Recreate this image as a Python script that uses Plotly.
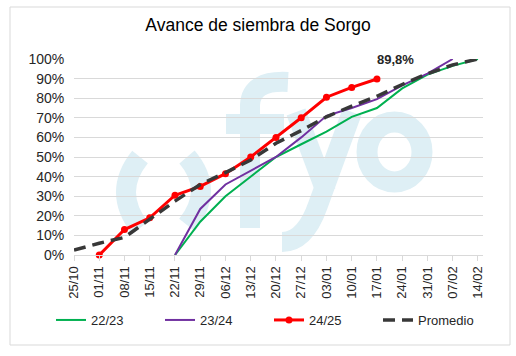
import plotly.graph_objects as go

categories = ["25/10", "01/11", "08/11", "15/11", "22/11", "29/11", "06/12", "13/12",
              "20/12", "27/12", "03/01", "10/01", "17/01", "24/01", "31/01", "07/02", "14/02"]
s_2223 = [None, None, None, None, 0, 17, 30, 40, 50, 56.5, 63, 70.5, 75, 85, 92, 96.5, 100]
s_2324 = [None, None, None, None, 0, 23.5, 36, 43, 50, 60, 71, 75, 79.5, 86.5, 92.5, 100, None]
s_2425 = [None, 0, 13, 19, 30.5, 35, 41.5, 50, 60, 70, 80.5, 85.5, 89.8, None, None, None, None]
promedio = [2.5, 6, 9, 18.5, 27.5, 36, 42, 48.5, 57, 63.5, 70.5, 76, 81, 87, 92.5, 97, 100]
y_ticks = [0, 10, 20, 30, 40, 50, 60, 70, 80, 90, 100]
y_labels = [f"{v}%" for v in y_ticks]
last_label = "89,8%"

x = list(range(len(categories)))

W, H = 516, 356
L, R, T, B = 74, 483, 59, 255  # plot area in pixels


def px(xp):
    return (xp - L) / (R - L)


def py(yp):
    return (B - yp) / (B - T)


def path(cmds):
    out = []
    for c in cmds:
        if isinstance(c, str):
            out.append(c)
        else:
            out.append(f"{px(c[0]):.5f},{py(c[1]):.5f}")
    return " ".join(out)


fig = go.Figure()
fig.add_trace(go.Scatter(x=x, y=s_2223, name="22/23", mode="lines",
                         line=dict(color="#00b050", width=2), cliponaxis=False))
fig.add_trace(go.Scatter(x=x, y=s_2324, name="23/24", mode="lines",
                         line=dict(color="#7030a0", width=2), cliponaxis=False))
fig.add_trace(go.Scatter(x=x, y=s_2425, name="24/25", mode="lines+markers",
                         line=dict(color="#ff0000", width=3),
                         marker=dict(color="#ff0000", size=7), cliponaxis=False))
fig.add_trace(go.Scatter(x=x, y=promedio, name="Promedio", mode="lines",
                         line=dict(color="#383838", width=3.5, dash="12px,7px"), cliponaxis=False))

# faint logo watermark drawn with shapes below the data
wm = "#deeff5"
wm_line = dict(color=wm, width=20)
shapes = [
    dict(type="rect", xref="paper", yref="paper", x0=px(10), x1=px(510), y0=py(345), y1=py(7),
         line=dict(color="#d9d9d9", width=1), layer="below"),
    dict(type="path", xref="paper", yref="paper", layer="below", line=wm_line,
         path=path(["M", (140, 157), "Q", (112, 192), (140, 228)])),
    dict(type="path", xref="paper", yref="paper", layer="below", line=wm_line,
         path=path(["M", (187, 157), "Q", (215, 190), (187, 225)])),
    dict(type="path", xref="paper", yref="paper", layer="below", line=wm_line,
         path=path(["M", (250, 228), "L", (250, 105), "Q", (251, 80), (288, 82)])),
    dict(type="path", xref="paper", yref="paper", layer="below", line=wm_line,
         path=path(["M", (226, 124), "L", (284, 124)])),
    dict(type="path", xref="paper", yref="paper", layer="below", line=wm_line,
         path=path(["M", (296, 112), "L", (326, 192)])),
    dict(type="path", xref="paper", yref="paper", layer="below", line=wm_line,
         path=path(["M", (352, 112), "L", (318, 205), "Q", (305, 242), (282, 242)])),
    dict(type="circle", xref="paper", yref="paper", layer="below", line=dict(color=wm, width=21),
         x0=px(367), x1=px(422), y0=py(182), y1=py(122)),
]

annotations = [
    dict(x=12, y=100, xref="x", yref="y", text=f"<b>{last_label}</b>", showarrow=False,
         xshift=19, yshift=0, yanchor="middle",
         font=dict(family="Liberation Sans", size=13, color="#262626")),
]

fig.update_layout(
    width=W, height=H,
    margin=dict(l=L, r=W - R, t=T, b=H - B, autoexpand=False),
    paper_bgcolor="white", plot_bgcolor="rgba(0,0,0,0)",
    title=dict(text="Avance de siembra de Sorgo", x=0.5, xref="container", xanchor="center",
               y=1 - 25 / H, yref="container", yanchor="middle",
               font=dict(family="Liberation Sans", size=17.5, color="#000000")),
    showlegend=True,
    legend=dict(orientation="h", x=px(51), y=py(320), xref="paper", yref="paper",
                xanchor="left", yanchor="middle", entrywidth=64, itemwidth=30,
                font=dict(family="Liberation Sans", size=13, color="#262626"),
                bgcolor="rgba(0,0,0,0)"),
    annotations=annotations,
    shapes=shapes,
)
fig.update_xaxes(range=[0, 16.2], tickmode="array", tickvals=x, ticktext=categories,
                 tickangle=-90, ticks="outside", ticklen=5, tickcolor="#d9d9d9",
                 showline=True, linecolor="#d9d9d9", showgrid=False, zeroline=False,
                 tickfont=dict(family="Liberation Sans", size=13, color="#262626"))
fig.update_yaxes(range=[0, 100], tickmode="array", tickvals=y_ticks, ticktext=y_labels,
                 showgrid=True, gridcolor="#d9d9d9", gridwidth=1, zeroline=False, showline=False,
                 ticks="outside", ticklen=6, tickcolor="rgba(0,0,0,0)",
                 tickfont=dict(family="Liberation Sans", size=14, color="#262626"))

# remove the browser's default page margin so the figure sits at the window's corner
fig.write_html("out.html", config={"displayModeBar": False},
               post_script="document.body.style.margin='0px';")
